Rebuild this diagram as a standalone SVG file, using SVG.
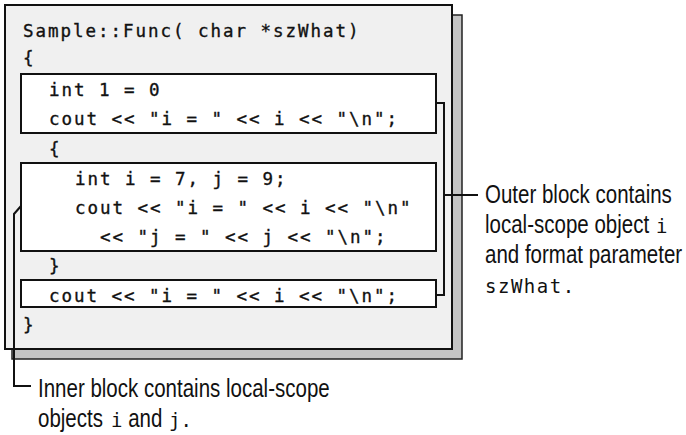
<svg xmlns="http://www.w3.org/2000/svg" width="686" height="435" viewBox="0 0 686 435">
<style>
.code{font-family:"DejaVu Sans Mono","Liberation Mono",monospace;font-size:17.5px;letter-spacing:1.96px;fill:#111;stroke:#111;stroke-width:0.35;white-space:pre}
.lab{font-family:"Liberation Sans",Arial,sans-serif;font-size:25px;fill:#111}
.mono{font-family:"DejaVu Sans Mono","Liberation Mono",monospace;font-size:19px;fill:#111}
.box{fill:#fff;stroke:#111;stroke-width:2}
.ln{fill:none;stroke:#111;stroke-width:2}
</style>
<g id="panel">
<rect x="12" y="15" width="450" height="344" fill="#c4c4c4" stroke="#222" stroke-width="1.5"/>
<rect x="5" y="5" width="447" height="344" fill="#f0f0f0" stroke="#111" stroke-width="2"/>
<text class="code" x="23" y="37">Sample::Func( char *szWhat)</text>
<text class="code" x="23" y="64">{</text>
<text class="code" x="49" y="155">{</text>
<text class="code" x="49" y="272">}</text>
<text class="code" x="23" y="331">}</text>
</g>
<g id="block1">
<rect class="box" x="21" y="74" width="415" height="59"/>
<text class="code" x="49" y="96">int 1 = 0</text>
<text class="code" x="49" y="125">cout &lt;&lt; "i = " &lt;&lt; i &lt;&lt; "\n";</text>
</g>
<g id="block2">
<rect class="box" x="21" y="163" width="415" height="88"/>
<text class="code" x="75" y="185">int i = 7, j = 9;</text>
<text class="code" x="75" y="214">cout &lt;&lt; "i = " &lt;&lt; i &lt;&lt; "\n"</text>
<text class="code" x="100" y="243">&lt;&lt; "j = " &lt;&lt; j &lt;&lt; "\n";</text>
</g>
<g id="block3">
<rect class="box" x="21" y="280" width="415" height="27"/>
<text class="code" x="49" y="302">cout &lt;&lt; "i = " &lt;&lt; i &lt;&lt; "\n";</text>
</g>
<g id="connectors">
<path class="ln" d="M436,103 H444 V295 H436"/>
<path class="ln" d="M444,195 H478"/>
<path class="ln" d="M21,206 L14,214 V386 H31"/>
</g>
<g id="outer-label">
<g transform="translate(485 0) scale(0.82 1)">
<text class="lab" x="0" y="203">Outer block contains</text>
<text class="lab" x="0" y="233">local-scope object</text>
<text class="lab" x="0" y="263">and format parameter</text>
</g>
<text class="mono" x="656" y="233">i</text>
<text class="mono" x="485" y="293" letter-spacing="1.5">szWhat.</text>
</g>
<g id="inner-label">
<g transform="translate(38 0) scale(0.82 1)">
<text class="lab" x="0" y="397">Inner block contains local-scope</text>
<text class="lab" x="0" y="427">objects</text>
<text class="lab" x="110" y="427">and</text>
</g>
<text class="mono" x="111" y="427">i</text>
<text class="mono" x="169" y="427">j.</text>
</g>
</svg>
